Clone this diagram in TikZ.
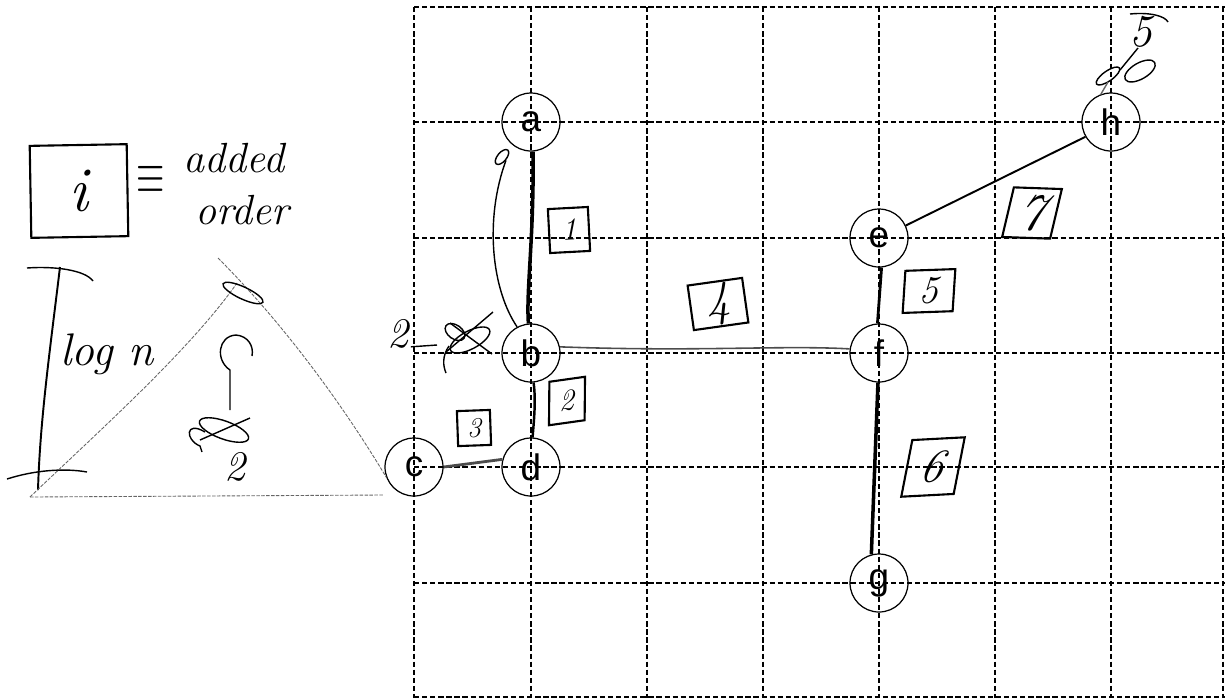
\documentclass[tikz,border=0pt]{standalone}
\usepackage{fontspec}
\newfontfamily\nodefont{Liberation Sans}
\usetikzlibrary{shapes.geometric}
\begin{document}
\begin{tikzpicture}[x=0.02cm,y=-0.02cm,
  gridline/.style={line width=0.6pt,dash pattern=on 3pt off 1.6pt},
  vert/.style={circle,draw,line width=0.7pt,minimum size=1.16cm,inner sep=0pt,
    font=\nodefont\fontsize{21}{21}\selectfont},
  tag/.style={draw,line width=1.2pt,inner sep=0pt},
  hw/.style={font=\fontsize{#1}{#1}\selectfont\itshape,inner sep=0pt},
  edge/.style={line width=1.6pt},
  pen/.style={line width=0.8pt},
  faint/.style={line width=0.5pt,black!60,dash pattern=on 2pt off 0.8pt}
]
\useasboundingbox (0,0) rectangle (1225,698);
% grid
\foreach \x in {414,531,647,763,879,995,1111,1223}
  \draw[gridline] (\x,7) -- (\x,698);
\foreach \y in {7,122,238,353,467,583,697}
  \draw[gridline] (414,\y) -- (1225,\y);
% vertices
\node[vert] (a) at (531,122) {a};
\node[vert] (b) at (531,353) {b};
\node[vert] (c) at (414,467) {c};
\node[vert] (d) at (531,467) {d};
\node[vert] (e) at (879,238) {e};
\node[vert] (f) at (879,353) {f};
\node[vert] (g) at (879,583) {g};
\node[vert] (h) at (1111,122) {h};
% edges
\draw[edge,line width=2pt] (a.-86) .. controls (534,240) and (526,290) .. (b.95);
\draw[edge,line width=1.4pt] (b.-85) .. controls (536,400) and (534,420) .. (d.87);
\draw[edge,black!70] (c.east) -- (d.165);
\draw[line width=0.9pt,black!70] (b.12) .. controls (700,352) and (780,345) .. (f.172);
\draw[edge] (e.-85) -- (f.93);
\draw[edge,line width=2pt] (f.-92) -- (g.105);
\draw[line width=1.1pt] (e.25) -- (h.210);
% order tags
\node[tag,minimum width=0.8cm,minimum height=0.88cm,rotate=3,hw=18] (l1) at (569,230) {1};
\node[tag,minimum width=0.72cm,minimum height=0.86cm,rotate=8,xslant=0.15,hw=17] (l2) at (567,401) {2};
\node[tag,minimum width=0.66cm,minimum height=0.7cm,rotate=2,hw=16] (l3) at (474,428) {3};
\node[tag,minimum width=1.1cm,minimum height=0.9cm,rotate=8,hw=28] (l4) at (718,304) {4};
\node[tag,minimum width=1.0cm,minimum height=0.84cm,rotate=2,xslant=0.1,hw=22] (l5) at (929,291) {5};
\node[tag,minimum width=1.05cm,minimum height=1.12cm,rotate=3,xslant=0.25,hw=26] (l6) at (933,467) {6};
\node[tag,minimum width=0.96cm,minimum height=1.0cm,rotate=-2,xslant=0.2,hw=30] (l7) at (1032,213) {7};
% parent pointer b -> a
\node[ellipse,draw,pen,minimum width=0.36cm,minimum height=0.18cm,inner sep=0pt,rotate=50] (pa) at (502,157) {};
\draw[pen] (b.118) .. controls (492,290) and (484,220) .. (pa.south);
% crossed-out 2 near b
\node[hw=24] (two1) at (398,334) {2};
\coordinate (sb) at (437,345);
\draw[pen] (two1.south east) ++(2,-2) -- (sb);
\draw[pen,rotate around={28:(470,340)}] (470,340) ellipse [x radius=22,y radius=9];
\draw[pen,rotate around={-35:(455,332)}] (455,332) ellipse [x radius=11,y radius=7];
\draw[pen] (450,323) -- (492,354);
\draw[pen] (446,352) -- (493,312);
\draw[pen] (449,346) .. controls (442,356) and (443,366) .. (446,373);
% crossed-out 5 near h
\node[hw=26] (five) at (1141,32) {5};
\draw[pen] (1130,14) .. controls (1150,12) and (1165,16) .. (1168,22);
\draw[pen,rotate around={35:(1108,76)}] (1108,76) ellipse [x radius=14,y radius=5];
\draw[pen,rotate around={30:(1140,71)}] (1140,71) ellipse [x radius=17,y radius=8];
\draw[pen] (1120,70) -- (1138,48);
\draw[pen,black!60] (h.110) -- (1108,82);
% legend
\node[tag,minimum width=1.94cm,minimum height=1.84cm,rotate=1,hw=36] (leg) at (79,191) {i};
\node[font=\fontsize{20}{20}\selectfont,inner sep=0pt,yscale=1.6] (eq) at (151,180) {$\equiv$};
\node[hw=24] (w1) at (234,158) {added};
\node[hw=24] (w2) at (242,210) {order};
% log n triangle
\draw[line width=1.1pt] (60,267) .. controls (50,350) and (40,420) .. (38,490);
\draw[pen] (27,268) .. controls (55,266) and (85,270) .. (93,281);
\draw[pen] (7,479) .. controls (35,470) and (65,468) .. (87,472);
\node[hw=26] (logn) at (107,354) {log n};
\coordinate (tl) at (30,497);
\coordinate (apex) at (237,283);
\coordinate (tr) at (218,258);
\draw[faint] (tl) .. controls (100,430) and (190,350) .. (apex);
\draw[faint] (tr) .. controls (280,320) and (340,400) .. (c.200);
\draw[faint] (tl) -- (383,495);
\draw[pen,rotate around={-25:(243,293)}] (243,293) ellipse [x radius=22,y radius=6];
% arrow-like mark with crossed-out 2
\draw[pen] (230,410) -- (230,370) .. controls (215,360) and (218,336) .. (236,335)
  .. controls (248,336) and (254,346) .. (252,356);
\draw[pen,rotate around={-20:(224,430)}] (224,430) ellipse [x radius=26,y radius=9];
\draw[pen] (200,440) -- (250,418);
\draw[pen] (205,432) .. controls (185,420) and (185,440) .. (200,446) -- (202,452);
\node[hw=24] (two2) at (235,467) {2};
\end{tikzpicture}
\end{document}
